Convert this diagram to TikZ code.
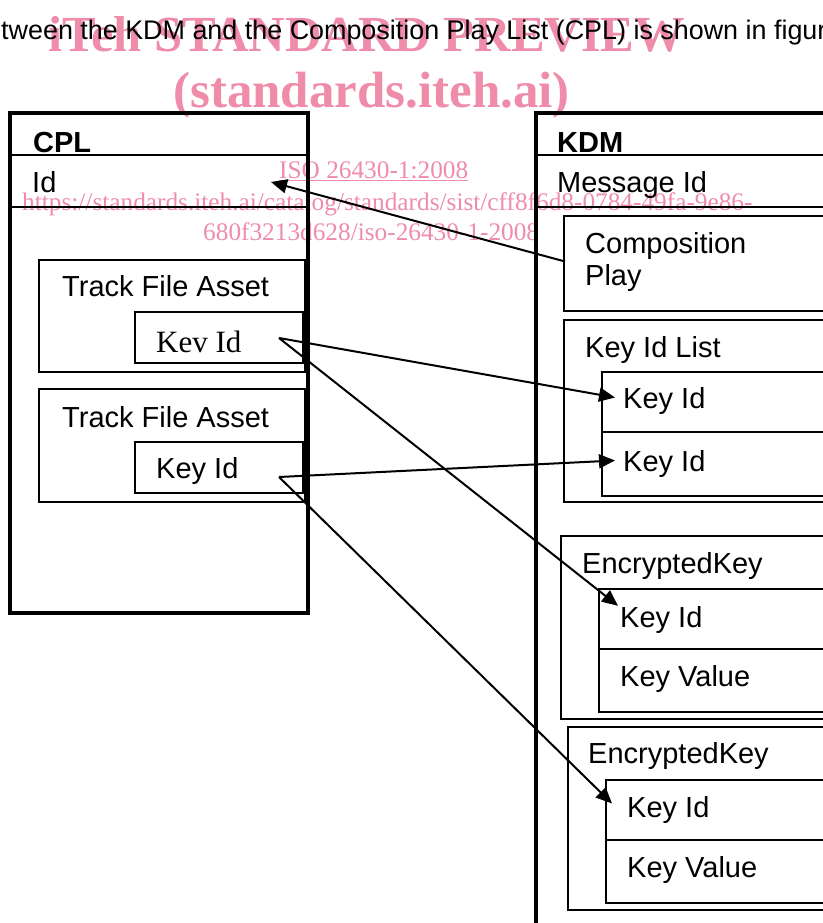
\documentclass[tikz,border=0pt]{standalone}
\usepackage{fontspec}
\setmainfont{Liberation Sans}
\newfontfamily\serifwm{Liberation Serif}
\usetikzlibrary{arrows.meta}
\definecolor{wmpink}{RGB}{238,140,170}
\tikzset{
	outer/.style={line width=4pt},
	cell/.style={line width=2pt},
	lbl/.style={anchor=base west, inner xsep=8pt, inner ysep=0pt, text height=21pt, text depth=0pt, font=\fontsize{29}{34}\selectfont},
	link/.style={line width=2pt, -{Triangle[length=16pt,width=14pt]}},
	wm/.style={anchor=base west, inner sep=0pt, text=wmpink},
}

\begin{document}
\begin{tikzpicture}[x=1pt, y=-1pt]
		%%%%% START %%%%%
		\useasboundingbox (0, 0) rectangle (822, 923);
		
		\node[anchor=base west, inner sep=0pt, font=\fontsize{26.9}{31}\selectfont] (intro) at (1, 40) {tween the KDM and the Composition Play List (CPL) is shown in figure};
		
		% CPL side
		\draw[outer] (10, 113) rectangle (308, 613);
		\draw[cell] (10, 155) -- (308, 155);
		\draw[cell] (10, 207) -- (308, 207);
		\node[lbl, font=\fontsize{29}{34}\selectfont\bfseries] (cpl) at (25, 152) {CPL};
		\node[lbl] (cplid) at (24, 192) {Id};
		
		\draw[cell] (39, 260) rectangle (305, 372);
		\draw[cell] (135, 312) rectangle (303, 363);
		\node[lbl] (tfa1) at (54, 296) {Track File Asset};
		\node[lbl, font=\fontsize{31}{36}\selectfont\serifwm] (kev) at (148, 352) {Kev Id};
		
		\draw[cell] (39, 389) rectangle (305, 502);
		\draw[cell] (135, 442) rectangle (303, 493);
		\node[lbl] (tfa2) at (54, 427) {Track File Asset};
		\node[lbl] (key) at (148, 478) {Key Id};
		
		% KDM side
		\draw[outer] (536, 113) rectangle (860, 960);
		\draw[cell] (536, 155) -- (860, 155);
		\draw[cell] (536, 207) -- (860, 207);
		\node[lbl, font=\fontsize{29}{34}\selectfont\bfseries] (kdm) at (549, 152) {KDM};
		\node[lbl] (msgid) at (549, 192) {Message Id};
		
		\draw[cell] (564, 216) rectangle (860, 311);
		\node[anchor=base west, inner xsep=8pt, inner ysep=0pt, align=left, font=\fontsize{29}{32}\selectfont] (cplay) at (577, 285) {Composition\\Play};
		
		\draw[cell] (564, 320) rectangle (860, 502);
		\draw[cell] (602, 372) rectangle (860, 496);
		\draw[cell] (602, 432) -- (860, 432);
		\node[lbl] (klist) at (577, 357) {Key Id List};
		\node[lbl] (kl1) at (615, 408) {Key Id};
		\node[lbl] (kl2) at (615, 471) {Key Id};
		
		\draw[cell] (561, 536) rectangle (860, 719);
		\draw[cell] (599, 589) rectangle (860, 712);
		\draw[cell] (599, 649) -- (860, 649);
		\node[lbl] (ek1) at (574, 573) {EncryptedKey};
		\node[lbl] (ek1id) at (612, 627) {Key Id};
		\node[lbl] (ek1val) at (612, 686) {Key Value};
		
		\draw[cell] (568, 727) rectangle (860, 910);
		\draw[cell] (606, 780) rectangle (860, 903);
		\draw[cell] (606, 840) -- (860, 840);
		\node[lbl] (ek2) at (580, 763) {EncryptedKey};
		\node[lbl] (ek2id) at (619, 817) {Key Id};
		\node[lbl] (ek2val) at (619, 877) {Key Value};
		
		% links
		\coordinate (idpt) at (271, 182);
		\coordinate (kevout) at (279, 338);
		\coordinate (keyout) at (279, 477);
		\draw[link] ([xshift=-12pt]cplay.west) -- (idpt);
		\draw[link] (kevout) -- (kl1.west);
		\draw[link] (keyout) -- (kl2.west);
		\draw[link] (kevout) -- ([xshift=6pt]ek1id.north west);
		\draw[link] (keyout) -- ([xshift=-7pt, yshift=3pt]ek2id.west);
		
		% watermark
		\begin{scope}[blend mode=multiply]
		\node[wm, font=\fontsize{50.5}{56}\selectfont\serifwm\bfseries] (wm1) at (48, 52) {iTeh STANDARD PREVIEW};
		\node[wm, font=\fontsize{51}{56}\selectfont\serifwm\bfseries] (wm2) at (173, 108) {(standards.iteh.ai)};
		\node[wm, font=\fontsize{25.3}{28}\selectfont\serifwm] (wm3) at (279, 178) {\underline{ISO 26430-1:2008}};
		\node[wm, font=\fontsize{25.3}{28}\selectfont\serifwm] (wm4) at (22, 210) {https://standards.iteh.ai/catalog/standards/sist/cff8f6d8-0784-49fa-9e86-};
		\node[wm, font=\fontsize{25.3}{28}\selectfont\serifwm] (wm5) at (203, 240) {680f3213d628/iso-26430-1-2008};
		\end{scope}
		
		%%%%% END %%%%%
\end{tikzpicture}
\end{document}
